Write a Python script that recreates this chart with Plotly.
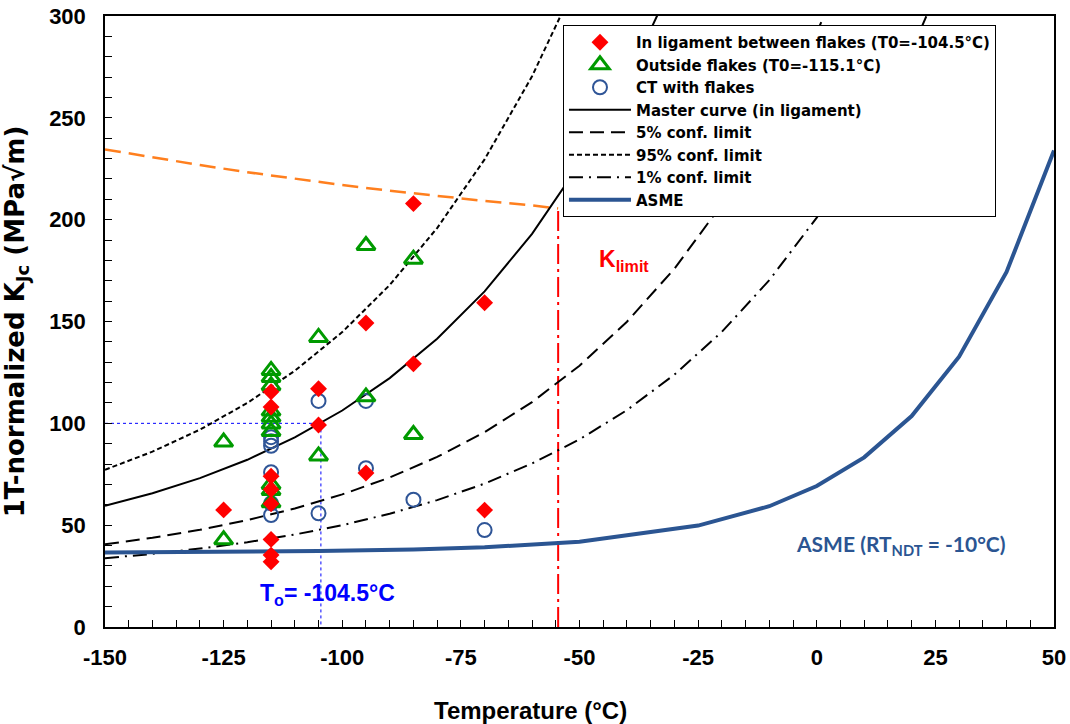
import plotly.graph_objects as go

# ---------------- data ----------------
# Fracture toughness test results
lig_T = [-125, -115, -115, -115, -115, -115, -115, -115, -115, -105, -105, -95, -95, -85, -85, -70, -70]
lig_K = [57.5, 115.5, 108, 74, 67.5, 60.5, 43, 35.3, 32, 117, 99.2, 149.3, 75.6, 207.9, 129.2, 159.2, 57.4]

out_T = [-125, -125, -115, -115, -115, -115, -115, -115, -115, -115, -115, -115, -105, -105, -95, -95, -85, -85]
out_K = [90.8, 42.8, 126, 122.5, 118.5, 106, 103, 99.7, 96, 70, 67, 61, 142.2, 84, 187.3, 113, 180.6, 94.5]

ct_T = [-115, -115, -115, -115, -115, -115, -105, -105, -95, -95, -85, -70]
ct_K = [93.2, 91.2, 89, 76, 60.7, 55, 111, 55.8, 111, 78, 62.5, 47.6]

# Master curve and confidence limits (T0 = -104.5 C)
mc_T = [-150, -140, -130, -120, -110, -100, -90, -80, -70, -60, -50, -40, -30]
mc_K = [59.5, 65.7, 73.1, 82.1, 93.1, 106.3, 122.2, 141.5, 164.8, 193.0, 227.2, 268.4, 318.3]

c5_T = [-150, -140, -130, -120, -110, -100, -90, -80, -70, -60, -50, -40, -30, -20, -10, 0, 10]
c5_K = [40.6, 43.8, 47.7, 52.5, 58.2, 65.1, 73.4, 83.5, 95.7, 110.4, 128.3, 149.9, 175.9, 207.5, 245.6, 291.7, 347.5]

c95_T = [-150, -140, -130, -120, -110, -100, -90, -80, -70, -60, -50]
c95_K = [77.2, 86.1, 96.9, 110.0, 125.8, 144.8, 167.9, 195.9, 229.6, 270.4, 319.8]

c1_T = [-150, -140, -130, -120, -110, -100, -90, -80, -70, -60, -50, -40, -30, -20, -10, 0, 10, 20, 30]
c1_K = [33.8, 35.9, 38.5, 41.6, 45.4, 50.0, 55.6, 62.3, 70.4, 80.3, 92.1, 106.5, 123.9, 144.9, 170.3, 201.0, 238.2, 283.1, 337.4]

# ASME lower bound (RT_NDT = -10 C)
asme_T = [-150, -125, -105, -85, -70, -50, -25, -10, 0, 10, 20, 30, 40, 50]
asme_K = [36.6, 36.9, 37.3, 38.0, 39.1, 41.9, 49.8, 59.3, 69.2, 83.3, 103.6, 132.7, 174.3, 234.0]

# K_limit curve
klim_T = [-150, -140, -130, -120, -110, -100, -90, -80, -70, -60, -54.5]
klim_K = [234.5, 230.5, 226.8, 223.3, 220.0, 217.0, 214.2, 211.6, 209.2, 207.0, 205.5]

T0 = -104.5
K_T0 = 100
T_limit = -54.5
K_limit = 205.5

x_ticks = [-150, -125, -100, -75, -50, -25, 0, 25, 50]
y_ticks = [0, 50, 100, 150, 200, 250, 300]

# ---------------- figure ----------------
FONT = "Liberation Sans"
fig = go.Figure()

# guide lines
fig.add_trace(go.Scatter(x=[-150, T0, T0], y=[K_T0, K_T0, 0], mode="lines",
                         line=dict(color="#0000FF", width=1, dash="dot"), showlegend=False, hoverinfo="skip"))
fig.add_trace(go.Scatter(x=klim_T, y=klim_K, mode="lines",
                         line=dict(color="#FF7F1E", width=2.5, dash="16px,8px"), showlegend=False))
fig.add_trace(go.Scatter(x=[T_limit, T_limit], y=[0, K_limit], mode="lines",
                         line=dict(color="#FF0000", width=2, dash="20px,5px,3px,5px"), showlegend=False))

# curves
fig.add_trace(go.Scatter(x=mc_T, y=mc_K, mode="lines", name="Master curve (in ligament)",
                         line=dict(color="black", width=2), legendrank=4))
fig.add_trace(go.Scatter(x=c5_T, y=c5_K, mode="lines", name="5% conf. limit",
                         line=dict(color="black", width=2, dash="14px,7px"), legendrank=5))
fig.add_trace(go.Scatter(x=c95_T, y=c95_K, mode="lines", name="95% conf. limit",
                         line=dict(color="black", width=2, dash="5px,3px"), legendrank=6))
fig.add_trace(go.Scatter(x=c1_T, y=c1_K, mode="lines", name="1% conf. limit",
                         line=dict(color="black", width=2, dash="14px,6px,2px,6px"), legendrank=7))
fig.add_trace(go.Scatter(x=asme_T, y=asme_K, mode="lines", name="ASME",
                         line=dict(color="#2B5592", width=4), legendrank=8))

# data points
fig.add_trace(go.Scatter(x=ct_T, y=ct_K, mode="markers", name="CT with flakes",
                         marker=dict(symbol="circle-open", size=14, color="#2F5597", line=dict(width=2)),
                         legendrank=3))
fig.add_trace(go.Scatter(x=out_T, y=out_K, mode="markers", name="Outside flakes (T0=-115.1°C)",
                         marker=dict(symbol="triangle-up-open", size=16, color="#009A00", line=dict(width=3)),
                         legendrank=2))
fig.add_trace(go.Scatter(x=lig_T, y=lig_K, mode="markers", name="In ligament between flakes (T0=-104.5°C)",
                         marker=dict(symbol="diamond", size=13, color="#FF0000"),
                         legendrank=1))

# annotations
fig.add_annotation(x=-46.3, y=180, xref="x", yref="y", text="K<sub>limit</sub>", showarrow=False,
                   xanchor="left", yanchor="middle",
                   font=dict(family=FONT, size=23, color="#FF0000", weight="bold"))
fig.add_annotation(x=-117.8, y=16, xref="x", yref="y", text="T<sub>o</sub>= -104.5°C", showarrow=False,
                   xanchor="left", yanchor="middle",
                   font=dict(family=FONT, size=23, color="#0000FF", weight="bold"))
fig.add_annotation(x=-4.8, y=40.3, xref="x", yref="y", text="ASME (RT<sub>NDT</sub> = -10°C)", showarrow=False,
                   xanchor="left", yanchor="middle",
                   font=dict(family="Lato", size=21, color="#2B5592", weight="bold"))
# x-axis title (placed left of centre, as in the reference)
fig.add_annotation(x=0.448, y=-0.136, xref="paper", yref="paper", text="Temperature (°C)", showarrow=False,
                   xanchor="center", yanchor="middle",
                   font=dict(family=FONT, size=24, color="black", weight="bold"))

axis_common = dict(
    showgrid=False, zeroline=False, showline=True, linecolor="black", linewidth=1.5, mirror=True,
    ticks="inside", ticklen=7, tickcolor="black", tickwidth=1, automargin=False,
    ticklabeloverflow="allow",
    tickfont=dict(family=FONT, size=22, color="black", weight="bold"),
)

fig.update_xaxes(range=[-150, 50], tickvals=x_ticks, ticktext=[str(v) for v in x_ticks],
                 minor=dict(dtick=5, ticks="inside", ticklen=7, tickcolor="black"),
                 ticklabelstandoff=10,
                 **axis_common)
fig.update_yaxes(range=[0, 300], tickvals=y_ticks, ticktext=[str(v) for v in y_ticks],
                 minor=dict(dtick=10, ticks="inside", ticklen=7, tickcolor="black"),
                 ticklabelstandoff=13,
                 title=dict(text="1T-normalized K<sub>Jc</sub> (MPa√m)", standoff=18,
                            font=dict(family="DejaVu Sans", size=26, color="black", weight="bold")),
                 **axis_common)

fig.update_layout(
    width=1070, height=724,
    margin=dict(l=105, r=16, t=16, b=97),
    plot_bgcolor="white", paper_bgcolor="white",
    legend=dict(x=0.4826, y=0.9853, xanchor="left", yanchor="top",
                bgcolor="white", bordercolor="black", borderwidth=1,
                font=dict(family="DejaVu Sans", size=15, color="black", weight="bold"),
                itemwidth=62, traceorder="normal"),
)

# remove the default 8px page margin so the figure fills the window exactly
fig.write_html("out.html", config={"displayModeBar": False},
               post_script="document.body.style.margin='0';document.body.style.overflow='hidden';")
